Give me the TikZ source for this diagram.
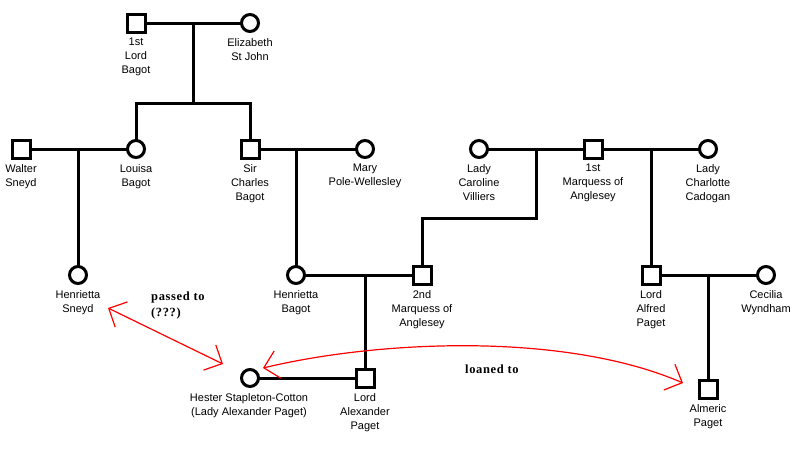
\documentclass[tikz,border=0pt]{standalone}
\usepackage{fontspec}
\setmainfont{Liberation Sans}
\newfontfamily\notefont[LetterSpace=5]{Liberation Serif}
\usetikzlibrary{arrows.meta}
\begin{document}
\begin{tikzpicture}[x=1pt,y=-1pt,
  lbl/.style={font=\fontsize{11}{14}\selectfont, align=center, inner sep=0pt, anchor=north},
  male/.style={draw, rectangle, minimum size=18pt, inner sep=0pt, outer sep=0pt, line width=3pt},
  female/.style={draw, circle, minimum size=17pt, inner sep=0pt, outer sep=0pt, line width=3pt},
  rel/.style={line width=3pt},
  note/.style={font=\notefont\bfseries\fontsize{12.5}{16}\selectfont, align=left, inner sep=0pt},
  loan/.style={red, line width=1.2pt, {Straight Barb[length=14pt,width=28pt]}-{Straight Barb[length=14pt,width=28pt]}}
]
\useasboundingbox (0,0) rectangle (800,448);

% generation 1
\node[male]   (lordbagot) at (136,23) {};
\node[female] (elizabeth) at (250,23) {};
\node[lbl] (t-lordbagot) at (136,38) {1st\\Lord\\Bagot};
\node[lbl] (t-elizabeth) at (250,38) {Elizabeth\\St John};

% generation 2
\node[male]   (walter)    at (21,149)  {};
\node[female] (louisa)    at (136,149) {};
\node[male]   (charles)   at (250,149) {};
\node[female] (mary)      at (365,149) {};
\node[female] (caroline)  at (479,149) {};
\node[male]   (marquess1) at (593,149) {};
\node[female] (charlotte) at (708,149) {};
\node[lbl] (t-walter)    at (21,164)  {Walter\\Sneyd};
\node[lbl] (t-louisa)    at (136,164) {Louisa\\Bagot};
\node[lbl] (t-charles)   at (250,164) {Sir\\Charles\\Bagot};
\node[lbl] (t-mary)      at (365,164) {Mary\\Pole-Wellesley};
\node[lbl] (t-caroline)  at (479,164) {Lady\\Caroline\\Villiers};
\node[lbl] (t-marquess1) at (593,164) {1st\\Marquess of\\Anglesey};
\node[lbl] (t-charlotte) at (708,164) {Lady\\Charlotte\\Cadogan};

% generation 3
\node[female] (hsneyd)    at (78,275)  {};
\node[female] (hbagot)    at (296,275) {};
\node[male]   (marquess2) at (422,275) {};
\node[male]   (alfred)    at (651,275) {};
\node[female] (cecilia)   at (766,275) {};
\node[lbl] (t-hsneyd)    at (78,290)  {Henrietta\\Sneyd};
\node[lbl] (t-hbagot)    at (296,290) {Henrietta\\Bagot};
\node[lbl] (t-marquess2) at (422,290) {2nd\\Marquess of\\Anglesey};
\node[lbl] (t-alfred)    at (651,290) {Lord\\Alfred\\Paget};
\node[lbl] (t-cecilia)   at (766,290) {Cecilia\\Wyndham};

% generation 4
\node[female] (hester)    at (250,378) {};
\node[male]   (alexander) at (365,378) {};
\node[male]   (almeric)   at (708,389) {};
\node[lbl] (t-hester)    at (249,393) {Hester Stapleton-Cotton\\(Lady Alexander Paget)};
\node[lbl] (t-alexander) at (365,393) {Lord\\Alexander\\Paget};
\node[lbl] (t-almeric)   at (708,404) {Almeric\\Paget};

% junctions
\coordinate (m1) at (193,23);
\coordinate (s1) at (193,103);
\coordinate (m2) at (78,149);
\coordinate (m3) at (296,149);
\coordinate (m4) at (536,149);
\coordinate (k4) at (536,218);
\coordinate (m5) at (651,149);
\coordinate (m6) at (365,275);
\coordinate (m7) at (708,275);

% relationship lines
\draw[rel] (lordbagot) -- (elizabeth);
\draw[rel] (m1) -- (s1);
\draw[rel] (louisa.north) |- (s1) -| (charles.north);
\draw[rel] (walter) -- (louisa);
\draw[rel] (m2) -- (hsneyd);
\draw[rel] (charles) -- (mary);
\draw[rel] (m3) -- (hbagot);
\draw[rel] (caroline) -- (marquess1);
\draw[rel] (marquess1) -- (charlotte);
\draw[rel] (m4) -- (k4) -| (marquess2.north);
\draw[rel] (m5) -- (alfred);
\draw[rel] (hbagot) -- (marquess2);
\draw[rel] (m6) -- (alexander);
\draw[rel] (alfred) -- (cecilia);
\draw[rel] (m7) -- (almeric);
\draw[rel] (hester) -- (alexander);

% notes
\node[note, anchor=north west] (passed) at (151,292) {passed to\\(???)};
\node[note, anchor=north west] (loaned) at (465,365) {loaned to};

% red arrows
\coordinate (a1) at (108,308);
\coordinate (a2) at (223,364);
\coordinate (b1) at (263,368);
\coordinate (b2) at (683,383);
\draw[loan] (a1) -- (a2);
\draw[loan] (b1) .. controls (380,340) and (565,332) .. (b2);
\end{tikzpicture}
\end{document}
